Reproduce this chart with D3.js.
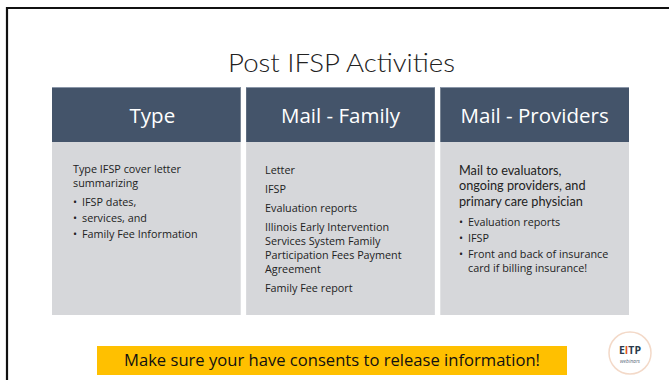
<!DOCTYPE html>
<html><head><meta charset="utf-8">
<script src="https://cdn.jsdelivr.net/npm/d3@7"></script>
<style>html,body{margin:0;padding:0;background:#fff;overflow:hidden}</style>
</head><body>
<svg id="c" width="669" height="380"></svg>
<script>
const title = "Post IFSP Activities";
const headers = ["Type", "Mail - Family", "Mail - Providers"];
const col1 = [
  {t:"Type IFSP cover letter", b:false, gap:0},
  {t:"summarizing", b:false, gap:0},
  {t:"IFSP dates,", b:true, gap:1},
  {t:"services, and", b:true, gap:2},
  {t:"Family Fee Information", b:true, gap:2}
];
const col2 = [
  {t:"Letter", b:false, gap:0},
  {t:"IFSP", b:false, gap:1},
  {t:"Evaluation reports", b:false, gap:1},
  {t:"Illinois Early Intervention", b:false, gap:1},
  {t:"Services System Family", b:false, gap:0},
  {t:"Participation Fees Payment", b:false, gap:0},
  {t:"Agreement", b:false, gap:0},
  {t:"Family Fee report", b:false, gap:1}
];
const col3intro = ["Mail to evaluators,", "ongoing providers, and", "primary care physician"];
const col3 = [
  {t:"Evaluation reports", b:true, gap:1},
  {t:"IFSP", b:true, gap:1},
  {t:"Front and back of insurance", b:true, gap:1},
  {t:"card if billing insurance!", b:false, indent:true, gap:0}
];
const note = "Make sure your have consents to release information!";

const svg = d3.select("#c");
const font = "'Open Sans', 'Noto Sans', sans-serif";

// slide frame
svg.append("path").attr("d","M7,380 V8 H669").attr("fill","none").attr("stroke","#111").attr("stroke-width",2.2);

svg.append("text").attr("x",228).attr("y",72)
  .attr("font-family","Lato, 'Open Sans', sans-serif").attr("font-weight",300).attr("font-size",26)
  .attr("textLength",227).attr("lengthAdjust","spacingAndGlyphs").attr("fill","#222").text(title);

const x = d3.scaleBand().domain(headers).range([52,629]).paddingInner(0.028).paddingOuter(0);
const hTop = 87, hBot = 142, bBot = 315;

const g = svg.selectAll("g.col").data(headers).join("g").attr("class","col");
g.append("rect").attr("x",d=>x(d)).attr("y",hBot).attr("width",x.bandwidth()).attr("height",bBot-hBot).attr("fill","#d6d7da");
g.append("rect").attr("x",d=>x(d)).attr("y",hTop).attr("width",x.bandwidth()).attr("height",hBot-hTop).attr("fill","#44546a");
g.append("rect").attr("x",d=>x(d)).attr("y",hTop).attr("width",x.bandwidth()).attr("height",1).attr("fill","#8a96a8");
g.append("text").attr("x",(d,i)=>x(d)+x.bandwidth()/2 + (i===0?6:0)).attr("y",123).attr("text-anchor","middle")
  .attr("font-family",font).attr("font-size",20.5).attr("fill","#fff").text(d=>d);

function drawList(list, x0, y0, lh, gapH, fs){
  let y = y0;
  list.forEach((it,i)=>{
    if(i>0) y += lh + (it.gap ? (it.gap===2 ? 1.7 : gapH) : 0);
    if(it.b){
      svg.append("text").attr("x",x0).attr("y",y).attr("font-family",font).attr("font-size",fs).attr("fill","#222").text("•");
    }
    svg.append("text").attr("x",x0 + (it.b||it.indent ? 9 : 0)).attr("y",y)
      .attr("font-family",font).attr("font-size",fs).attr("fill","#222").text(it.t);
  });
}
const bfs = 10.8;
drawList(col1, 73, 173, 14.3, 4.7, bfs);
drawList(col2, 265, 173.5, 14, 5, bfs);
col3intro.forEach((t,i)=>{
  svg.append("text").attr("x",459).attr("y",175+i*15.3).attr("font-family","Lato, 'Open Sans', sans-serif")
    .attr("font-size",12.7).attr("fill","#222").text(t);
});
drawList(col3, 459, 225.5, 14, 2, bfs);

// note banner
svg.append("rect").attr("x",97).attr("y",346).attr("width",470).attr("height",29).attr("fill","#ffc000");
svg.append("text").attr("x",332).attr("y",366).attr("text-anchor","middle").attr("font-family",font)
  .attr("font-size",16.6).attr("fill","#111").text(note);

// logo
const lg = svg.append("g").attr("transform","translate(630,353)");
lg.append("circle").attr("r",21).attr("fill","#fff").attr("stroke","#f3d9c8").attr("stroke-width",1.5);
lg.append("text").attr("y",1).attr("text-anchor","middle").attr("font-family",font).attr("font-weight","bold")
  .attr("font-size",10.5).attr("fill","#2b3a4a").html('E<tspan fill="#e2561c">I</tspan>TP');
lg.append("text").attr("y",10).attr("text-anchor","middle").attr("font-family",font).attr("font-style","italic")
  .attr("font-size",5).attr("fill","#5a6a7a").text("webinars");
</script>
</body></html>
